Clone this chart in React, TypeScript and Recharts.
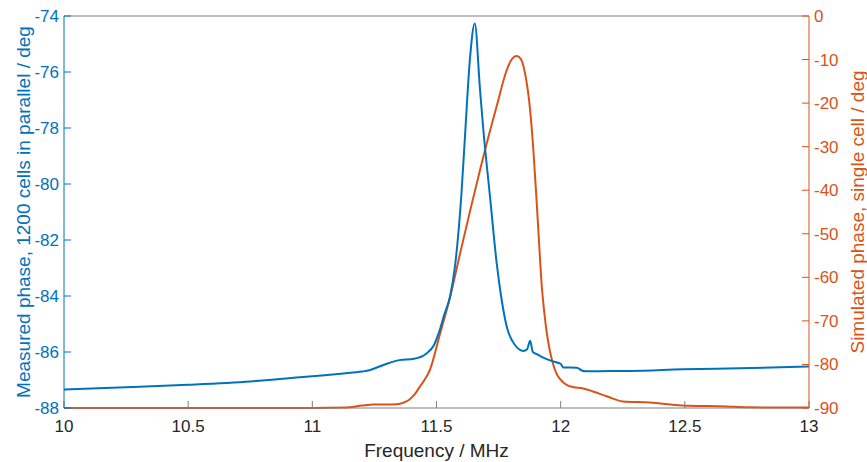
import { Label, Line, LineChart, XAxis, YAxis } from "recharts";

const BLUE = "#0072BD";
const ORANGE = "#D95319";
const GRAY = "#7f7f7f";
const FONT = "'Liberation Sans', Arial, sans-serif";

// measured phase (1200 cells), left axis
const measuredFreq = [
  10, 10.25, 10.5, 10.75, 10.95, 11.05, 11.125, 11.2, 11.23, 11.27, 11.3, 11.35,
  11.41, 11.46, 11.49, 11.51, 11.53, 11.555, 11.575, 11.6, 11.614, 11.635, 11.654,
  11.675, 11.688, 11.716, 11.742, 11.76, 11.783, 11.816, 11.85, 11.865, 11.877,
  11.888, 11.91, 11.93, 11.97, 12.0, 12.01, 12.065, 12.085, 12.1, 12.2, 12.28,
  12.49, 12.72, 13,
];
const measuredPhase = [
  -87.34, -87.26, -87.17, -87.05, -86.9, -86.83, -86.77, -86.7, -86.65, -86.52,
  -86.42, -86.29, -86.24, -86.05, -85.75, -85.3, -84.7, -84.0, -82.9, -80.4, -78.4,
  -75.5, -74.27, -76.6, -78.0, -80.5, -82.8, -84.0, -85.1, -85.75, -85.96, -85.9,
  -85.6, -86.0, -86.1, -86.2, -86.34, -86.42, -86.55, -86.56, -86.66, -86.69,
  -86.68, -86.68, -86.62, -86.58, -86.52,
];

// simulated phase (single cell), right axis
const simFreq = [
  10, 10.5, 11, 11.13, 11.2, 11.245, 11.3, 11.34, 11.37, 11.39, 11.41, 11.434,
  11.474, 11.514, 11.555, 11.595, 11.635, 11.675, 11.698, 11.742, 11.783, 11.8,
  11.823, 11.84, 11.856, 11.877, 11.89, 11.903, 11.913, 11.923, 11.933, 11.943,
  11.957, 11.97, 11.985, 11.997, 12.024, 12.05, 12.09, 12.13, 12.185, 12.25, 12.36,
  12.49, 12.67, 12.75, 12.92, 13,
];
const simPhase = [
  -90, -90, -90, -89.9, -89.45, -89.2, -89.2, -89.15, -88.7, -88.1, -87.0, -85.0,
  -81.2, -73.0, -64.5, -54.5, -44.8, -35.4, -30.2, -20.8, -12.4, -10.2, -9.2, -9.9,
  -13.0, -21.6, -30.7, -42.3, -52.0, -61.3, -67.5, -72.3, -77.0, -80.0, -82.3,
  -83.3, -84.7, -85.2, -85.5, -86.2, -87.3, -88.5, -88.75, -89.4, -89.65, -89.85,
  -89.9, -89.9,
];

const freqTicks = [10, 10.5, 11, 11.5, 12, 12.5, 13];
const measuredTicks = [-88, -86, -84, -82, -80, -78, -76, -74];
const simTicks = [-90, -80, -70, -60, -50, -40, -30, -20, -10, 0];

const measured = measuredFreq.map((f, i) => ({ f, v: measuredPhase[i] }));
const simulated = simFreq.map((f, i) => ({ f, r: simPhase[i] }));

function AxisTitle({
  viewBox,
  text,
  color,
  side,
}: {
  viewBox?: { x: number; y: number; width: number; height: number };
  text: string;
  color: string;
  side: "left" | "right" | "bottom";
}) {
  if (!viewBox) return null;
  const { x, y, width, height } = viewBox;
  if (side === "bottom") {
    return (
      <text
        x={x + width / 2}
        y={y + 42}
        textAnchor="middle"
        dominantBaseline="central"
        fill="#262626"
        fontSize={19}
        fontFamily={FONT}
      >
        {text}
      </text>
    );
  }
  const cx = side === "left" ? x + 23 : x + 48;
  const cy = y + height / 2;
  return (
    <text
      x={cx}
      y={cy}
      transform={`rotate(-90 ${cx} ${cy})`}
      textAnchor="middle"
      dominantBaseline="central"
      fill={color}
      fontSize={19}
      fontFamily={FONT}
    >
      {text}
    </text>
  );
}

export default function App() {
  return (
    <div
      style={{
        position: "absolute",
        left: 0,
        top: 0,
        width: 867,
        height: 462,
        background: "#fff",
      }}
    >
      <LineChart
        width={867}
        height={462}
        margin={{ top: 15, right: 0, bottom: 0, left: 0 }}
      >
        <XAxis
          xAxisId="top"
          orientation="top"
          type="number"
          dataKey="f"
          domain={[10, 13]}
          ticks={freqTicks}
          height={1}
          tick={false}
          tickSize={-7}
          stroke={GRAY}
        />
        <XAxis
          xAxisId="b"
          type="number"
          dataKey="f"
          domain={[10, 13]}
          ticks={freqTicks}
          height={54}
          tickSize={-7}
          tickMargin={19}
          stroke={GRAY}
          tick={{ fill: "#262626", fontSize: 17, fontFamily: FONT }}
          label={
            <Label
              content={(p: any) => (
                <AxisTitle viewBox={p.viewBox} text="Frequency / MHz" color="#262626" side="bottom" />
              )}
            />
          }
        />
        <YAxis
          yAxisId="m"
          orientation="left"
          type="number"
          domain={[-88, -74]}
          ticks={measuredTicks}
          width={64}
          tickSize={-7}
          tickMargin={12}
          stroke={BLUE}
          tick={{ fill: BLUE, fontSize: 17, fontFamily: FONT }}
          label={
            <Label
              content={(p: any) => (
                <AxisTitle
                  viewBox={p.viewBox}
                  text="Measured phase, 1200 cells in parallel / deg"
                  color={BLUE}
                  side="left"
                />
              )}
            />
          }
        />
        <YAxis
          yAxisId="s"
          orientation="right"
          type="number"
          domain={[-90, 0]}
          ticks={simTicks}
          width={58}
          tickSize={-7}
          tickMargin={12}
          stroke={ORANGE}
          tick={{ fill: ORANGE, fontSize: 17, fontFamily: FONT }}
          label={
            <Label
              content={(p: any) => (
                <AxisTitle
                  viewBox={p.viewBox}
                  text="Simulated phase, single cell / deg"
                  color={ORANGE}
                  side="right"
                />
              )}
            />
          }
        />
        <Line
          xAxisId="b"
          yAxisId="s"
          data={simulated}
          dataKey="r"
          type="monotone"
          stroke={ORANGE}
          strokeWidth={2}
          dot={false}
          isAnimationActive={false}
        />
        <Line
          xAxisId="b"
          yAxisId="m"
          data={measured}
          dataKey="v"
          type="monotone"
          stroke={BLUE}
          strokeWidth={2}
          dot={false}
          isAnimationActive={false}
        />
      </LineChart>
    </div>
  );
}
